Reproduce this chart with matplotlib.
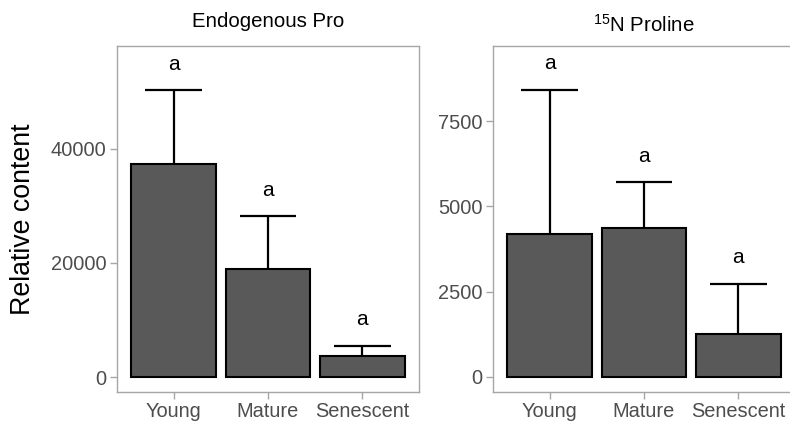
"""
plot.py — relative content of endogenous vs 15N-labelled proline by leaf stage.
Writes out.png (790x428).
"""
import matplotlib
matplotlib.use("Agg")
import matplotlib.pyplot as plt

# ── data ────────────────────────────────────────────────────────────────────
stages = ["Young", "Mature", "Senescent"]

endo_mean = [37400, 18900, 3700]
endo_upper = [50400, 28300, 5450]
endo_sig = ["a", "a", "a"]
endo_sig_y = [54900, 32800, 10000]

n15_mean = [4190, 4380, 1250]
n15_upper = [8420, 5720, 2720]
n15_sig = ["a", "a", "a"]
n15_sig_y = [9180, 6460, 3490]

endo_ticks = [0, 20000, 40000]
n15_ticks = [0, 2500, 5000, 7500]

# ── style ───────────────────────────────────────────────────────────────────
FILL, BORDER, TICKCOL = "#595959", "#A6A6A6", "#4D4D4D"
plt.rcParams["font.family"] = ["Liberation Sans", "DejaVu Sans"]
plt.rcParams["mathtext.fontset"] = "custom"
plt.rcParams["mathtext.rm"] = "Liberation Sans"

W, H = 790, 428


def panel(fig, left_px, means, uppers, sig, sig_y, ticks, ylim, title, title_pad):
    ax = fig.add_axes([left_px / W, (H - 392) / H, 302 / W, 346 / H])
    x = list(range(1, len(stages) + 1))
    ax.bar(x, means, width=0.9, color=FILL, edgecolor="black", linewidth=1.5, zorder=2)
    ax.vlines(x, means, uppers, color="black", linewidth=1.6, zorder=3)
    ax.hlines(uppers, [i - 0.3 for i in x], [i + 0.3 for i in x],
              color="black", linewidth=1.6, zorder=3)
    for xi, yi, s in zip(x, sig_y, sig):
        ax.text(xi, yi, s, ha="center", va="center", fontsize=15, color="black")
    ax.set_xlim(0.4, 3.6)
    ax.set_ylim(*ylim)
    ax.set_xticks(x)
    ax.set_xticklabels(stages)
    ax.set_yticks(ticks)
    ax.set_yticklabels([str(t) for t in ticks])
    ax.tick_params(colors=BORDER, labelcolor=TICKCOL, labelsize=14.4,
                   length=5, width=1, pad=2.5)
    for sp in ax.spines.values():
        sp.set_color(BORDER)
        sp.set_linewidth(1)
    ax.set_title(title, fontsize=14.7, color="black", pad=title_pad)
    return ax


fig = plt.figure(figsize=(W / 100, H / 100), dpi=100)

ax1 = panel(fig, 117, endo_mean, endo_upper, endo_sig, endo_sig_y,
            endo_ticks, (-2630, 58060), "Endogenous Pro", 13.7)
ax1.set_ylabel("Relative content", fontsize=19.3, color="black")
ax1.yaxis.set_label_coords(-0.268, 0.5)

ax2 = panel(fig, 493, n15_mean, n15_upper, n15_sig, n15_sig_y,
            n15_ticks, (-440, 9700), r"$^{15}$N Proline", 10)

# foot of a cut-off heading above the panels
fig.text(346 / W, 1 + 7 / H, "p", fontfamily="Liberation Serif", fontweight="bold",
         fontsize=20, ha="left", va="baseline", color="black")

fig.savefig("out.png", dpi=100, facecolor="white")
